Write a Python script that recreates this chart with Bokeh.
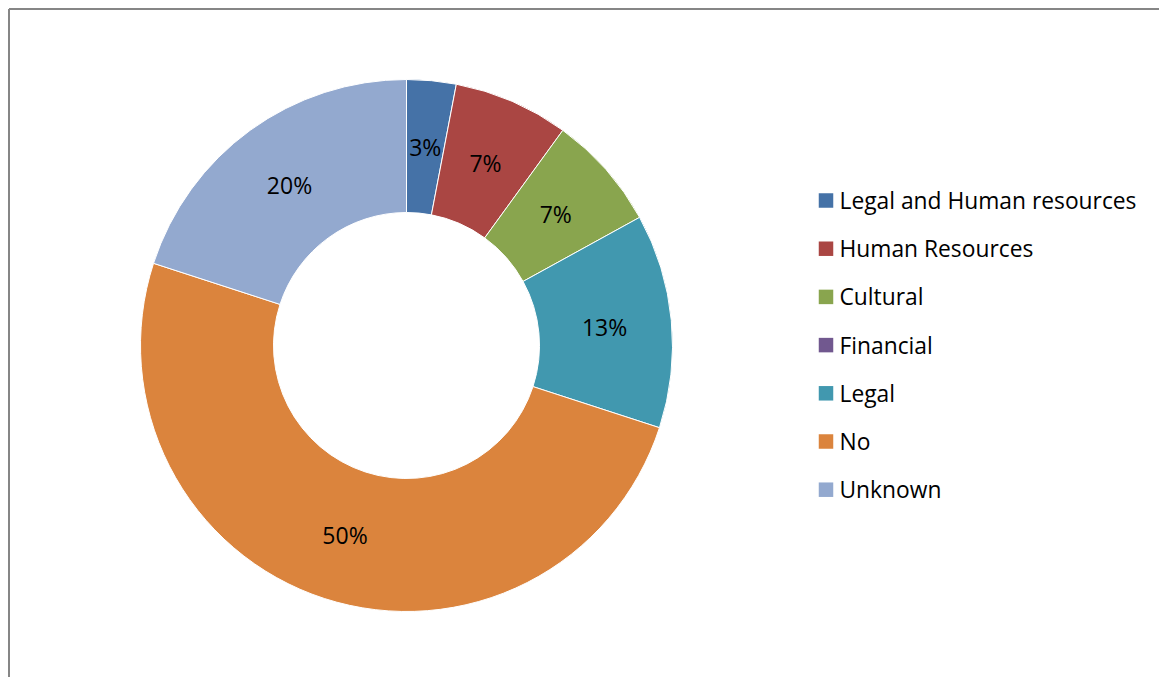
import math
from bokeh.plotting import figure
from bokeh.models import Range1d, ColumnDataSource
from bokeh.core.properties import value
from bokeh.embed import file_html
from bokeh.resources import INLINE

categories = ["Legal and Human resources", "Human Resources", "Cultural",
              "Financial", "Legal", "No", "Unknown"]
percents = [3, 7, 7, 0, 13, 50, 20]
colors = ["#4572A7", "#AA4643", "#89A54E", "#71588F", "#4198AF", "#DB843D", "#93A9CF"]

W, H = 1159, 677
p = figure(width=W, height=H, output_backend="svg", toolbar_location=None,
           x_range=Range1d(0, W), y_range=Range1d(0, H), min_border=0)
p.axis.visible = False
p.grid.visible = False
p.outline_line_color = None
p.background_fill_color = "white"
p.border_fill_color = "white"

def Y(py):
    return H - py

# chart-area border (only left and top visible in the reference)
p.segment(x0=[8.5, 8.5], y0=[Y(8.5), Y(8.5)], x1=[W + 5, 8.5], y1=[Y(8.5), -5],
          line_color="#868686", line_width=2)

cx, cy = 406, Y(345)
R_out, R_in = 266, 133
total = sum(percents)
starts, ends, cols = [], [], []
lx, ly, lt = [], [], []
r_lab = 199
cum = 0
for v, col in zip(percents, colors):
    a0 = math.pi / 2 - 2 * math.pi * cum / total
    cum += v
    a1 = math.pi / 2 - 2 * math.pi * cum / total
    if v == 0:
        continue
    starts.append(a0)
    ends.append(a1)
    cols.append(col)
    m = (a0 + a1) / 2
    lx.append(cx + r_lab * math.cos(m))
    ly.append(cy + r_lab * math.sin(m))
    lt.append(f"{round(100 * v / total)}%")

src = ColumnDataSource(dict(start=starts, end=ends, color=cols,
                            x=[cx] * len(cols), y=[cy] * len(cols)))
p.annular_wedge(x="x", y="y", inner_radius=R_in, outer_radius=R_out,
                start_angle="start", end_angle="end", direction="clock",
                fill_color="color", line_color="white", line_width=1, source=src)

# data labels
p.text(x=lx, y=ly, text=lt, text_align="center", text_baseline="middle",
       text_font=value("Open Sans"), text_font_size="23px", text_color="black")

# legend
step = 48.2
ys = [Y(200 + i * step) for i in range(len(categories))]
p.rect(x=[825.5] * len(categories), y=ys, width=14.5, height=14.5,
       fill_color=colors, line_color=None)
p.text(x=[839] * len(categories), y=ys, text=categories, text_align="left",
       text_baseline="middle", text_font=value("Open Sans"), text_font_size="22.8px",
       text_color="black")

open("out.html", "w").write(file_html(p, INLINE))
